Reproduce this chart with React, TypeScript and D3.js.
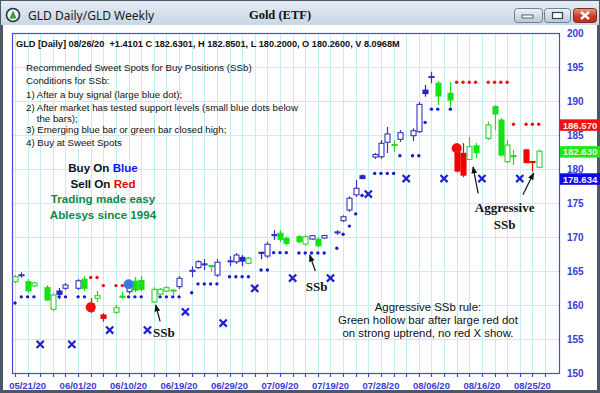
import React, { useRef, useEffect } from 'react';
import * as d3 from 'd3';

// [slot, open, high, low, close, colour]  b = blue, g = green, r = red
const bars: [number, number, number, number, number, string][] = [
  [0, 163.43, 164.4, 163.2, 164.16, 'g'],
  [1, 164.35, 164.8, 164.0, 164.45, 'b'],
  [2, 163.43, 163.8, 161.8, 162.1, 'g'],
  [3, 162.8, 163.4, 162.65, 163.24, 'g'],
  [5, 162.55, 162.9, 160.6, 160.74, 'g'],
  [6, 159.37, 161.75, 159.1, 161.47, 'g'],
  [7, 162.06, 162.5, 160.9, 161.57, 'b'],
  [8, 162.46, 163.24, 162.2, 162.94, 'b'],
  [10, 162.46, 163.8, 162.2, 163.57, 'b'],
  [11, 163.78, 164.26, 162.06, 162.46, 'g'],
  [12, 160.2, 161.0, 158.8, 159.1, 'r'],
  [13, 160.98, 162.06, 160.44, 161.37, 'g'],
  [14, 158.53, 158.8, 157.54, 158.04, 'r'],
  [16, 158.93, 160.0, 158.7, 159.6, 'g'],
  [17, 161.3, 162.0, 160.9, 161.2, 'g'],
  [18, 161.96, 163.1, 161.6, 162.69, 'b'],
  [19, 163.5, 164.1, 161.9, 162.2, 'g'],
  [20, 163.6, 164.3, 162.0, 162.3, 'g'],
  [22, 160.45, 162.6, 160.3, 162.3, 'g'],
  [23, 161.6, 162.5, 161.3, 162.3, 'g'],
  [24, 162.05, 162.8, 161.9, 162.55, 'g'],
  [25, 162.2, 162.25, 161.4, 162.1, 'g'],
  [26, 162.7, 164.26, 162.35, 163.93, 'b'],
  [28, 165.0, 165.7, 164.1, 165.1, 'b'],
  [29, 165.5, 166.6, 165.3, 166.37, 'b'],
  [30, 165.95, 166.75, 165.15, 166.05, 'b'],
  [31, 165.8, 165.85, 164.85, 165.7, 'g'],
  [32, 164.4, 166.75, 164.1, 166.3, 'b'],
  [34, 166.4, 167.2, 165.7, 166.5, 'b'],
  [35, 166.35, 167.65, 166.0, 167.35, 'b'],
  [36, 167.0, 167.35, 165.7, 166.47, 'b'],
  [37, 166.13, 167.05, 166.0, 166.87, 'g'],
  [39, 167.75, 167.8, 166.75, 167.65, 'b'],
  [40, 167.2, 169.3, 166.9, 168.93, 'b'],
  [41, 170.25, 171.0, 169.55, 170.35, 'b'],
  [42, 170.55, 171.0, 169.26, 169.66, 'g'],
  [43, 169.8, 170.1, 168.7, 169.07, 'g'],
  [45, 170.04, 170.3, 169.1, 169.3, 'g'],
  [46, 168.97, 170.3, 168.7, 170.04, 'g'],
  [47, 169.7, 170.25, 169.6, 170.2, 'b'],
  [48, 169.66, 170.0, 168.5, 168.72, 'g'],
  [49, 169.85, 170.3, 169.7, 170.22, 'b'],
  [51, 170.65, 171.0, 170.3, 170.75, 'b'],
  [52, 172.4, 173.2, 172.2, 172.98, 'b'],
  [53, 173.97, 176.0, 173.7, 175.7, 'b'],
  [54, 176.2, 178.4, 175.9, 177.16, 'b'],
  [55, 179.0, 179.2, 178.5, 178.6, 'b'],
  [57, 181.76, 182.35, 181.47, 182.13, 'b'],
  [58, 181.8, 184.26, 181.47, 183.78, 'b'],
  [59, 183.93, 186.18, 182.35, 185.15, 'b'],
  [60, 183.5, 184.26, 182.5, 183.6, 'g'],
  [61, 184.37, 185.74, 183.97, 185.34, 'b'],
  [63, 184.9, 186.0, 184.1, 185.63, 'b'],
  [64, 185.49, 189.85, 185.3, 189.5, 'b'],
  [65, 191.6, 192.35, 190.63, 191.1, 'b'],
  [66, 193.5, 194.3, 192.6, 193.6, 'b'],
  [67, 192.6, 192.94, 189.4, 190.74, 'g'],
  [69, 191.13, 192.8, 188.97, 190.15, 'g'],
  [70, 183.5, 183.8, 179.5, 179.7, 'r'],
  [71, 182.3, 183.8, 178.8, 179.1, 'r'],
  [72, 181.4, 184.7, 181.3, 183.28, 'g'],
  [73, 183.4, 183.8, 181.6, 182.4, 'g'],
  [75, 184.5, 186.96, 184.26, 186.47, 'g'],
  [76, 189.16, 189.4, 185.7, 188.09, 'g'],
  [77, 187.2, 187.5, 181.9, 182.06, 'g'],
  [78, 181.07, 184.26, 180.88, 183.53, 'g'],
  [79, 181.95, 182.8, 180.6, 181.85, 'g'],
  [81, 182.8, 182.94, 180.88, 180.93, 'r'],
  [82, 181.1, 181.15, 179.6, 181.0, 'r'],
  [83, 180.26, 182.85, 180.2, 182.63, 'g'],
];

// small blue dots under the bars (support)
const supportDots: [number, number][] = [
  [0, 160.3], [1, 161.2], [2, 161.2], [3, 161.2], [5, 161.2], [6, 161.2], [7, 161.2], [8, 161.2],
  [10, 161.2], [11, 161.2], [18, 161.2], [19, 161.2], [20, 161.2], [22, 161.2], [23, 161.2],
  [24, 161.2], [25, 161.2], [26, 161.2], [28, 161.8], [29, 163.1], [30, 163.1], [31, 163.1],
  [32, 163.1], [34, 164.15], [35, 164.15], [36, 164.15], [37, 164.15], [39, 165.15], [40, 165.15],
  [41, 167.7], [42, 167.7], [43, 167.7], [45, 167.65], [46, 167.65], [47, 167.65], [48, 167.65],
  [49, 167.65], [51, 168.35], [52, 170.4], [53, 171.6], [54, 173.4], [55, 176.1], [57, 179.35],
  [58, 179.35], [59, 179.35], [60, 179.35], [61, 181.95], [63, 181.95], [64, 181.95], [65, 186.85],
  [66, 188.8], [67, 188.8], [69, 188.8],
];

// small red dots above the bars (resistance)
const resistDots: [number, number][] = [
  [12, 164.05], [13, 164.05], [14, 162.85], [16, 162.85], [17, 162.85],
  [70, 192.75], [71, 192.75], [72, 192.75], [73, 192.75], [75, 192.75], [76, 192.75], [77, 192.75],
  [78, 192.75], [79, 186.57], [81, 186.57], [82, 186.57], [83, 186.57],
];

// weekly X marks
const weeklyX: [number, number][] = [
  [4, 154.22], [9, 154.22], [15, 156.32], [21, 156.32], [27, 159.0], [33, 157.35], [38, 162.45],
  [44, 163.97], [50, 163.97], [56, 176.32], [62, 178.6], [68, 178.6], [74, 178.6], [80, 178.6],
];

// large signal dots
const bigDots: [number, number, string][] = [[12, 159.66, 'r'], [18, 163.05, 'b'], [70, 183.05, 'r']];

const dateLabels = ['05/21/20', '06/01/20', '06/10/20', '06/19/20', '06/29/20', '07/09/20',
  '07/19/20', '07/28/20', '08/06/20', '08/16/20', '08/25/20'];
const yTicks = [150, 155, 160, 165, 170, 175, 180, 185, 190, 195, 200];
const priceTags: [number, string][] = [[186.57, 'r'], [182.63, 'g'], [178.634, 'b']];

// arrows: [fromSlot, fromPrice, toSlot, toPrice]
const arrows: [number, number, number, number][] = [
  [23.0, 157.6, 22.3, 160.0],
  [47.6, 165.0, 46.7, 167.35],
  [73.4, 176.4, 72.6, 180.3],
  [80.5, 176.2, 82.2, 179.4],
];
// serif labels: [slot, price, text]
const notes: [number, number, string][] = [
  [23.6, 156.0, 'SSb'], [47.8, 162.8, 'SSb'], [77.6, 174.4, 'Aggressive'], [77.6, 171.9, 'SSb'],
];
const ruleLines = ['Aggressive SSb rule:', 'Green hollow bar after large red dot', 'on strong uptrend, no red X show.'];
const rulePrices = [159.7, 157.8, 155.9];

const infoLines = [
  'Recommended Sweet Spots for Buy Positions (SSb)',
  'Conditions for SSb:',
  '1) After a buy signal (large blue dot);',
  '2) After market has tested support levels (small blue dots below',
  '    the bars);',
  '3) Emerging blue bar or green bar closed high;',
  '4) Buy at Sweet Spots',
];

const COL: Record<string, string> = { b: '#2424c8', g: '#16e016', r: '#f00000' };
const HOLLOW: Record<string, string> = { b: '#3434c4', g: '#2ed22e', r: '#e00000' };
const TAG: Record<string, string> = { b: '#0a0ae6', g: '#1ee61e', r: '#f01010' };
const SANS = '"Liberation Sans", Arial, sans-serif';
const SERIF = '"Liberation Serif", "Times New Roman", serif';

const App = () => {
  const ref = useRef<HTMLDivElement>(null);

  useEffect(() => {
    document.body.style.margin = '0';
    if (!ref.current) return;
    d3.select(ref.current).select('svg').remove();

    const W = 600, H = 393;
    const left = 12, right = 559, top = 33, bottom = 373;
    const x = d3.scaleLinear().domain([0, 83]).range([15, 538.7]);
    const y = d3.scaleLinear().domain([150, 200]).range([bottom, top]);
    const px = (s: number) => Math.round(x(s)) + 0.5;

    const svg = d3.select(ref.current).append('svg')
      .attr('width', W).attr('height', H)
      .style('display', 'block')
      .style('font-family', SANS);

    const defs = svg.append('defs');
    const tg = defs.append('linearGradient').attr('id', 'tb').attr('x1', 0).attr('y1', 0).attr('x2', 0).attr('y2', 1);
    tg.append('stop').attr('offset', '0%').attr('stop-color', '#e4ecf4');
    tg.append('stop').attr('offset', '100%').attr('stop-color', '#c8d6e4');
    const bg = defs.append('linearGradient').attr('id', 'btn').attr('x1', 0).attr('y1', 0).attr('x2', 0).attr('y2', 1);
    bg.append('stop').attr('offset', '0%').attr('stop-color', '#eef3f8');
    bg.append('stop').attr('offset', '100%').attr('stop-color', '#b9c8d8');
    const rg = defs.append('linearGradient').attr('id', 'cls').attr('x1', 0).attr('y1', 0).attr('x2', 0).attr('y2', 1);
    rg.append('stop').attr('offset', '0%').attr('stop-color', '#e8a090');
    rg.append('stop').attr('offset', '55%').attr('stop-color', '#c83c28');
    rg.append('stop').attr('offset', '100%').attr('stop-color', '#b83020');
    defs.append('marker').attr('id', 'ah').attr('viewBox', '0 0 10 10')
      .attr('refX', 9).attr('refY', 5).attr('markerWidth', 6).attr('markerHeight', 6)
      .attr('orient', 'auto')
      .append('path').attr('d', 'M0,1L10,5L0,9Z').attr('fill', '#111');

    // window chrome
    svg.append('rect').attr('width', W).attr('height', H).attr('fill', '#4a5868');
    svg.append('rect').attr('x', 1).attr('y', 1).attr('width', W - 2).attr('height', 24).attr('fill', 'url(#tb)');
    svg.append('rect').attr('x', 3).attr('y', 25).attr('width', W - 6).attr('height', H - 28).attr('fill', '#fff');
    svg.append('circle').attr('cx', 13).attr('cy', 15).attr('r', 6.5).attr('fill', '#eef2f4').attr('stroke', '#2a3440').attr('stroke-width', 1.6);
    svg.append('path').attr('d', 'M9.5,18.5L13,10.5L16.5,18.5Z').attr('fill', '#3a9a3a');
    svg.append('text').attr('x', 28).attr('y', 19.5).attr('font-family', '"Noto Sans", sans-serif')
      .attr('font-size', 12).attr('fill', '#1a1a1a').text('GLD Daily/GLD Weekly');
    svg.append('text').attr('x', 280).attr('y', 19).attr('text-anchor', 'middle').attr('font-family', SERIF)
      .attr('font-weight', 'bold').attr('font-size', 12.5).attr('fill', '#111').text('Gold (ETF)');
    [[514, 28], [544, 26]].forEach(([bx, bw]) => {
      svg.append('rect').attr('x', bx + 0.5).attr('y', 8.5).attr('width', bw).attr('height', 14).attr('rx', 3)
        .attr('fill', 'url(#btn)').attr('stroke', '#6f8194');
    });
    svg.append('rect').attr('x', 522).attr('y', 15).attr('width', 11).attr('height', 3).attr('fill', '#fff').attr('stroke', '#34404c').attr('stroke-width', 0.8);
    svg.append('rect').attr('x', 552.5).attr('y', 12.5).attr('width', 10).attr('height', 6).attr('fill', '#fff').attr('stroke', '#34404c').attr('stroke-width', 1.2);
    svg.append('rect').attr('x', 573.5).attr('y', 8.5).attr('width', 23).attr('height', 14).attr('rx', 3)
      .attr('fill', 'url(#cls)').attr('stroke', '#7a2a1e');
    svg.append('path').attr('d', 'M581,12L589,19M589,12L581,19').attr('stroke', '#fff').attr('stroke-width', 2.4);

    // grid
    const tickSlots = d3.range(0, 85, 2);
    svg.append('g').selectAll('line').data(tickSlots).enter().append('line')
      .attr('x1', d => px(d)).attr('x2', d => px(d)).attr('y1', top).attr('y2', bottom)
      .attr('stroke', '#c4eef4').attr('stroke-width', 1);
    svg.append('g').selectAll('line').data(yTicks.slice(1, -1)).enter().append('line')
      .attr('x1', left).attr('x2', right).attr('y1', d => Math.round(y(d)) + 0.5).attr('y2', d => Math.round(y(d)) + 0.5)
      .attr('stroke', '#c4eef4').attr('stroke-width', 1);

    // frame
    svg.append('rect').attr('x', left + 0.5).attr('y', top + 0.5).attr('width', right - left).attr('height', bottom - top)
      .attr('fill', 'none').attr('stroke', '#4848dc').attr('stroke-width', 1.2);

    // x ticks and labels
    svg.append('g').selectAll('line').data(tickSlots).enter().append('line')
      .attr('x1', d => px(d)).attr('x2', d => px(d)).attr('y1', bottom).attr('y2', bottom + 4)
      .attr('stroke', '#4848dc').attr('stroke-width', 1.2);
    svg.append('g').selectAll('text').data(dateLabels).enter().append('text')
      .attr('x', (d, i) => x(2 + i * 8)).attr('y', 389).attr('text-anchor', 'middle')
      .attr('font-size', 9.5).attr('font-weight', 'bold').attr('fill', '#3a3ad8').text(d => d);

    // y labels
    svg.append('g').selectAll('text').data(yTicks).enter().append('text')
      .attr('x', 567).attr('y', d => y(d)).attr('dy', '0.36em')
      .attr('font-size', 10).attr('font-weight', 'bold').attr('fill', '#3a3ad8').text(d => d);

    // price tags
    const tags = svg.append('g').selectAll('g').data(priceTags).enter().append('g');
    tags.append('rect').attr('x', 560).attr('y', d => y(d[0]) - 5).attr('width', 40).attr('height', 11.5)
      .attr('fill', d => TAG[d[1]]);
    tags.append('text').attr('x', 580).attr('y', d => y(d[0]) + 0.8).attr('dy', '0.36em').attr('text-anchor', 'middle')
      .attr('font-size', 9.6).attr('font-weight', 'bold')
      .attr('fill', d => (d[1] === 'g' ? '#f4f4c8' : '#f8f0f0')).text(d => d3.format('.3f')(d[0]));

    // header and explanatory text
    svg.append('text').attr('x', 16).attr('y', 47).attr('font-size', 9.2).attr('font-weight', 'bold').attr('fill', '#111')
      .attr('xml:space', 'preserve')
      .text('GLD [Daily] 08/26/20  +1.4101 C 182.6301, H 182.8501, L 180.2000, O 180.2600, V 8.0968M');
    const infoY = [70.5, 84, 97.5, 111, 121.5, 133, 146];
    svg.append('g').selectAll('text').data(infoLines).enter().append('text')
      .attr('x', 26).attr('y', (d, i) => infoY[i]).attr('font-size', 9.7).attr('fill', '#111')
      .attr('xml:space', 'preserve').text(d => d);

    const promo: [string, string, string, string][] = [
      ['Buy On ', '#111', 'Blue', '#1414e8'],
      ['Sell On ', '#111', 'Red', '#f00000'],
      ['Trading made easy', '#0a8a4c', '', ''],
      ['Ablesys since 1994', '#0a8a4c', '', ''],
    ];
    promo.forEach((p, i) => {
      const t = svg.append('text').attr('x', 103).attr('y', 172 + i * 15.5).attr('text-anchor', 'middle')
        .attr('font-size', 11.6).attr('font-weight', 'bold');
      t.append('tspan').attr('fill', p[1]).text(p[0]);
      if (p[2]) t.append('tspan').attr('fill', p[3]).text(p[2]);
    });

    // support / resistance dots
    svg.append('g').selectAll('circle').data(supportDots).enter().append('circle')
      .attr('cx', d => x(d[0])).attr('cy', d => y(d[1])).attr('r', 1.7).attr('fill', '#1a1ad0');
    svg.append('g').selectAll('circle').data(resistDots).enter().append('circle')
      .attr('cx', d => x(d[0])).attr('cy', d => y(d[1])).attr('r', 1.7).attr('fill', '#f01010');

    // weekly X
    svg.append('g').selectAll('path').data(weeklyX).enter().append('path')
      .attr('d', d => {
        const cx = x(d[0]), cy = y(d[1]), s = 3.6;
        return `M${cx - s},${cy - s}L${cx + s},${cy + s}M${cx + s},${cy - s}L${cx - s},${cy + s}`;
      })
      .attr('stroke', '#2020d0').attr('stroke-width', 2.2);

    // candles
    const cg = svg.append('g').selectAll('g').data(bars).enter().append('g');
    cg.append('line')
      .attr('x1', d => px(d[0])).attr('x2', d => px(d[0]))
      .attr('y1', d => y(d[2])).attr('y2', d => y(d[3]))
      .attr('stroke', d => (d[4] > d[1] ? HOLLOW[d[5]] : COL[d[5]])).attr('stroke-width', 1.2);
    cg.append('rect')
      .attr('x', d => px(d[0]) - 2.5)
      .attr('y', d => y(Math.max(d[1], d[4])))
      .attr('width', 5)
      .attr('height', d => Math.max(1, Math.abs(y(d[1]) - y(d[4]))))
      .attr('fill', d => (d[4] > d[1] ? '#fff' : COL[d[5]]))
      .attr('stroke', d => (d[4] > d[1] ? HOLLOW[d[5]] : COL[d[5]])).attr('stroke-width', 1.1);

    // big signal dots
    svg.append('g').selectAll('circle').data(bigDots).enter().append('circle')
      .attr('cx', d => x(d[0])).attr('cy', d => y(d[1])).attr('r', 5)
      .attr('fill', d => (d[2] === 'b' ? '#3a78e8' : '#f01010'));

    // annotations
    svg.append('g').selectAll('line').data(arrows).enter().append('line')
      .attr('x1', d => x(d[0])).attr('y1', d => y(d[1])).attr('x2', d => x(d[2])).attr('y2', d => y(d[3]))
      .attr('stroke', '#111').attr('stroke-width', 1.2).attr('marker-end', 'url(#ah)');
    svg.append('g').selectAll('text').data(notes).enter().append('text')
      .attr('x', d => x(d[0])).attr('y', d => y(d[1])).attr('dy', '0.35em').attr('text-anchor', 'middle')
      .attr('font-family', SERIF).attr('font-weight', 'bold').attr('font-size', 13).attr('fill', '#111')
      .text(d => d[2]);
    svg.append('g').selectAll('text').data(ruleLines).enter().append('text')
      .attr('x', x(65.45)).attr('y', (d, i) => y(rulePrices[i])).attr('dy', '0.35em').attr('text-anchor', 'middle')
      .attr('font-size', 11.4).attr('fill', '#111').text(d => d);
  }, []);

  return <div ref={ref}></div>;
};

export default App;
